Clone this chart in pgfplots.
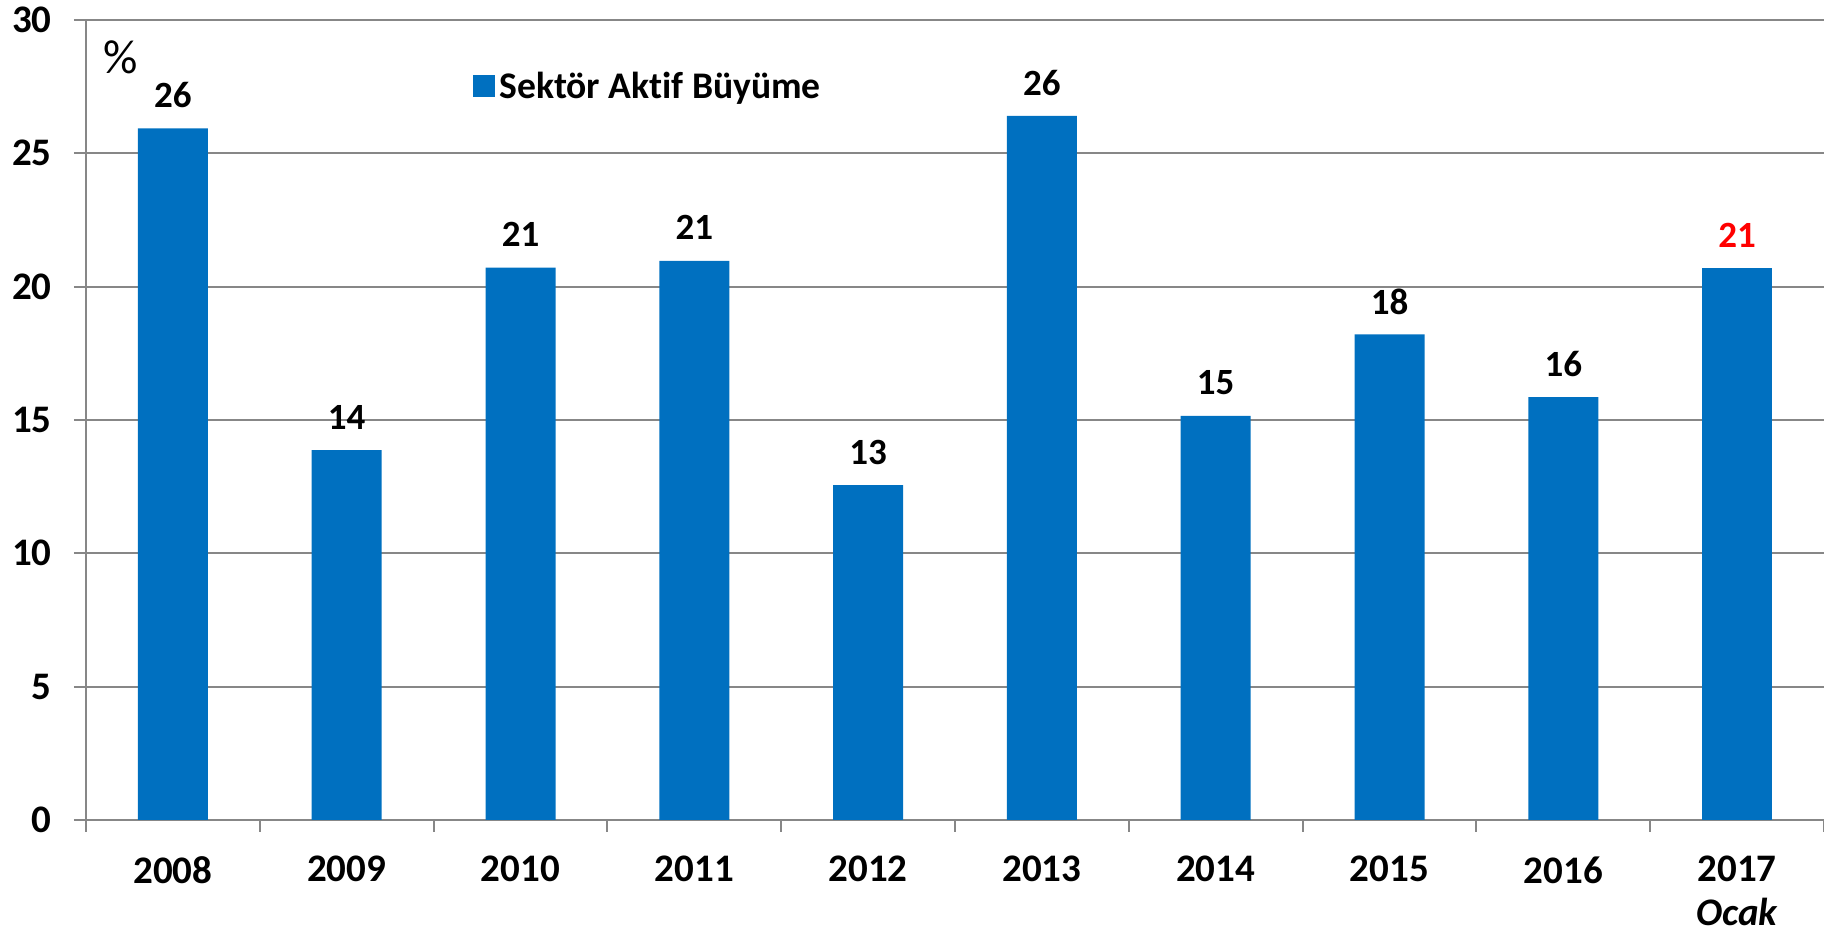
\documentclass[border=0pt]{standalone}
\usepackage{pgfplots}
\pgfplotsset{compat=1.18}
\usepackage{fontspec}
\setmainfont{Carlito}[Ligatures=NoCommon]
\definecolor{barblue}{HTML}{0070C0}
\definecolor{axgray}{HTML}{878787}
\pgfplotstableread{
x y
0 25.94
1 13.87
2 20.71
3 20.97
4 12.56
5 26.40
6 15.15
7 18.21
8 15.86
}\mydata
\pgfplotstableread{
x y
9 20.69
}\mydatared
\begin{document}
\begin{tikzpicture}
\begin{axis}[
 scale only axis, width=869pt, height=400pt,
 xmin=-0.5, xmax=9.5, ymin=0, ymax=30,
 axis x line=bottom, axis y line=left,
 axis line style={axgray, line width=1pt, -},
 ytick={0,5,...,30}, ymajorgrids, grid style={axgray, line width=1pt},
 xtick={0,...,9},
 xticklabels={2008,2009,2010,2011,2012,2013,2014,2015,2016,{2017\\\textit{Ocak}}},
 minor xtick={-0.5,0.5,...,9.5},
 major x tick style={draw=none},
 tick align=outside, major tick length=6pt, minor tick length=6pt,
 tick style={axgray, line width=1pt},
 /pgf/number format/assume math mode=true,
 ticklabel style={font=\bfseries\fontsize{19.5}{22}\selectfont},
 xticklabel style={align=center, anchor=north, inner sep=0pt, yshift=-12pt},
 yticklabel style={anchor=east, inner sep=0pt, xshift=-11pt},
 ybar, bar width=35pt,
 legend style={at={(0.2227,0.917)}, anchor=west, draw=none, fill=none,
   font=\bfseries\fontsize{18.8}{22}\selectfont, inner sep=0pt},
 legend image code/.code={\fill[barblue] (0pt,-5.5pt) rectangle (11pt,5.5pt);},
 nodes near coords={\pgfmathprintnumber[fixed,precision=0]{\pgfplotspointmeta}},
 every node near coord/.append style={font=\bfseries\fontsize{18.5}{21}\selectfont, anchor=center, yshift=16.5pt},
 clip=false,
]
\addplot[fill=barblue, draw=none, bar shift=0pt] table[x=x,y=y]{\mydata};
\addlegendentry{Sektör Aktif Büyüme}
\addplot[fill=barblue, draw=none, bar shift=0pt,
  every node near coord/.append style={text=red}, forget plot] table[x=x,y=y]{\mydatared};
\node[font=\fontsize{24}{28}\selectfont] at (axis cs:-0.3,28.6) {\%};
\end{axis}
\pgfresetboundingbox
\path (-43pt,-54.5pt) rectangle (869pt,410pt);
\end{tikzpicture}
\end{document}
